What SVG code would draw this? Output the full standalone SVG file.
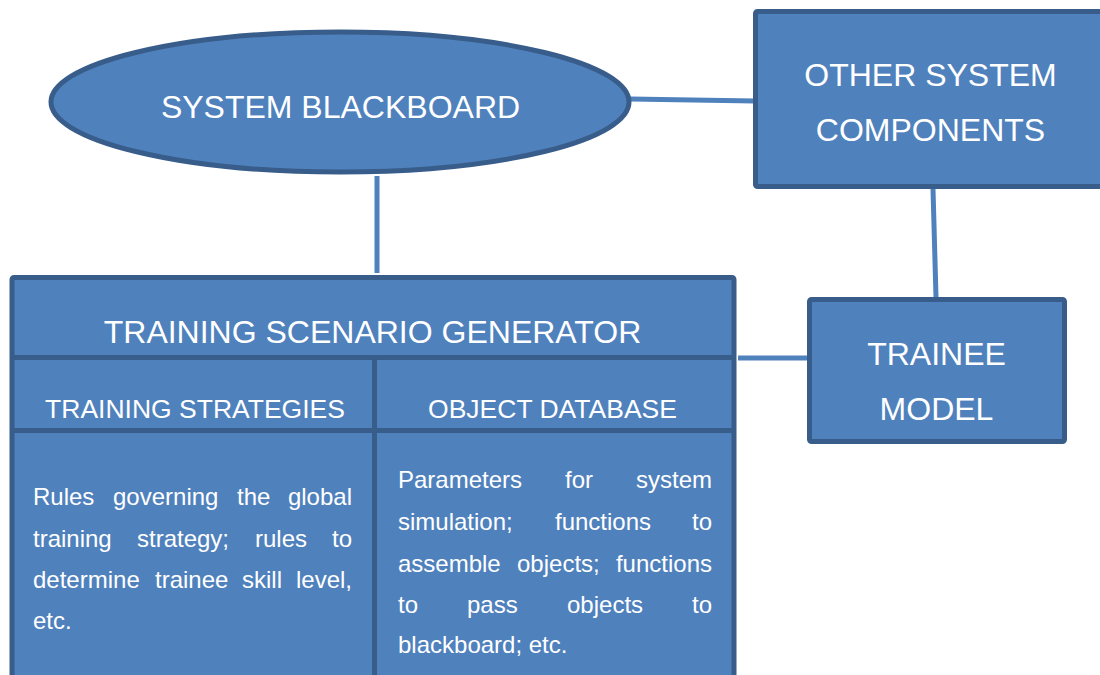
<svg xmlns="http://www.w3.org/2000/svg" width="1100" height="675" viewBox="0 0 1100 675">
<style>
.box{fill:#4f81bd;stroke:#385d8a;stroke-width:5}
.con{stroke:#4f81bd;stroke-width:5;fill:none}
.div{stroke:#385d8a;stroke-width:5;fill:none}
text{font-family:"Liberation Sans",Arial,sans-serif;fill:#ffffff}
.t32{font-size:32px;text-anchor:middle}
.t26{font-size:26.5px;text-anchor:middle}
.t24{font-size:24px}
</style>
<rect width="1100" height="675" fill="#ffffff"/>
<g id="connectors">
<line class="con" x1="630" y1="99" x2="755" y2="101"/>
<line class="con" x1="377" y1="176" x2="377" y2="273"/>
<line class="con" x1="933" y1="189" x2="936" y2="297"/>
<line class="con" x1="738" y1="358" x2="808" y2="358"/>
</g>
<g id="blackboard">
<ellipse class="box" cx="340" cy="102" rx="289" ry="70"/>
<text class="t32" x="340.5" y="118">SYSTEM BLACKBOARD</text>
</g>
<g id="other">
<rect class="box" x="755.5" y="11.5" width="360" height="175" rx="2"/>
<text class="t32" x="930.5" y="86">OTHER SYSTEM</text>
<text class="t32" x="930.5" y="141">COMPONENTS</text>
</g>
<g id="trainee">
<rect class="box" x="809.5" y="299.5" width="255" height="142" rx="2"/>
<text class="t32" x="936.5" y="365">TRAINEE</text>
<text class="t32" x="936.5" y="420">MODEL</text>
</g>
<g id="generator">
<rect class="box" x="12" y="277.5" width="722" height="410" rx="2"/>
<line class="div" x1="12" y1="357.5" x2="734" y2="357.5"/>
<line class="div" x1="12" y1="430.5" x2="734" y2="430.5"/>
<line class="div" x1="374.5" y1="357.5" x2="374.5" y2="680"/>
<text class="t32" x="372.5" y="343">TRAINING SCENARIO GENERATOR</text>
</g>
<g id="strategies">
<text class="t26" x="195" y="418">TRAINING STRATEGIES</text>
<text class="t24" y="505"><tspan x="33">Rules</tspan><tspan x="113">governing</tspan><tspan x="237">the</tspan><tspan x="352" text-anchor="end">global</tspan></text>
<text class="t24" y="547"><tspan x="33">training</tspan><tspan x="137">strategy;</tspan><tspan x="255">rules</tspan><tspan x="352" text-anchor="end">to</tspan></text>
<text class="t24" y="588"><tspan x="33">determine</tspan><tspan x="155">trainee</tspan><tspan x="242">skill</tspan><tspan x="352" text-anchor="end">level,</tspan></text>
<text class="t24" y="629"><tspan x="33">etc.</tspan></text>
</g>
<g id="database">
<text class="t26" x="552.5" y="418">OBJECT DATABASE</text>
<text class="t24" y="488"><tspan x="398">Parameters</tspan><tspan x="565">for</tspan><tspan x="712" text-anchor="end">system</tspan></text>
<text class="t24" y="530"><tspan x="398">simulation;</tspan><tspan x="555">functions</tspan><tspan x="712" text-anchor="end">to</tspan></text>
<text class="t24" y="572"><tspan x="398">assemble</tspan><tspan x="517">objects;</tspan><tspan x="712" text-anchor="end">functions</tspan></text>
<text class="t24" y="613"><tspan x="398">to</tspan><tspan x="467">pass</tspan><tspan x="567">objects</tspan><tspan x="712" text-anchor="end">to</tspan></text>
<text class="t24" y="653"><tspan x="398">blackboard; etc.</tspan></text>
</g>
</svg>
